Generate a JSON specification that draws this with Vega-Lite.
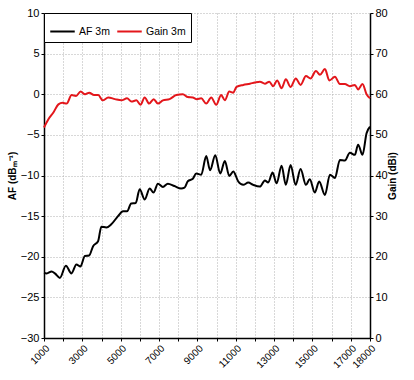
{
  "$schema": "https://vega.github.io/schema/vega-lite/v6.json",
  "width": 326,
  "height": 325,
  "autosize": "none",
  "padding": {"left": 44, "top": 13, "right": 44, "bottom": 42},
  "background": "white",
  "config": {
    "view": {"stroke": null},
    "font": "Liberation Sans",
    "axis": {
      "labelFont": "Liberation Sans",
      "labelFontSize": 11,
      "labelColor": "#000",
      "titleFont": "Liberation Sans",
      "titleFontSize": 10,
      "titleFontWeight": "bold",
      "titleColor": "#000",
      "domainColor": "#000",
      "domainWidth": 1.5,
      "tickColor": "#000",
      "tickSize": 3,
      "gridColor": "#b0b0b0",
      "gridDash": [1, 2],
      "gridWidth": 1
    },
    "legend": {
      "labelFont": "Liberation Sans",
      "labelFontSize": 10.5,
      "labelColor": "#000"
    }
  },
  "datasets": {
    "curves": [
      {"f": 1000, "v": -22.0, "s": "AF 3m"},
      {"f": 1140, "v": -22.05, "s": "AF 3m"},
      {"f": 1400, "v": -21.8, "s": "AF 3m"},
      {"f": 1570, "v": -22.05, "s": "AF 3m"},
      {"f": 1830, "v": -22.6, "s": "AF 3m"},
      {"f": 2140, "v": -21.1, "s": "AF 3m"},
      {"f": 2430, "v": -22.05, "s": "AF 3m"},
      {"f": 2690, "v": -20.95, "s": "AF 3m"},
      {"f": 2900, "v": -21.2, "s": "AF 3m"},
      {"f": 3130, "v": -19.9, "s": "AF 3m"},
      {"f": 3350, "v": -19.85, "s": "AF 3m"},
      {"f": 3560, "v": -18.7, "s": "AF 3m"},
      {"f": 3820, "v": -18.1, "s": "AF 3m"},
      {"f": 3990, "v": -16.3, "s": "AF 3m"},
      {"f": 4250, "v": -16.4, "s": "AF 3m"},
      {"f": 4510, "v": -16.0, "s": "AF 3m"},
      {"f": 4860, "v": -15.0, "s": "AF 3m"},
      {"f": 5120, "v": -14.4, "s": "AF 3m"},
      {"f": 5330, "v": -14.4, "s": "AF 3m"},
      {"f": 5550, "v": -13.45, "s": "AF 3m"},
      {"f": 5780, "v": -13.4, "s": "AF 3m"},
      {"f": 5990, "v": -11.7, "s": "AF 3m"},
      {"f": 6250, "v": -12.95, "s": "AF 3m"},
      {"f": 6510, "v": -11.6, "s": "AF 3m"},
      {"f": 6710, "v": -12.1, "s": "AF 3m"},
      {"f": 6940, "v": -11.0, "s": "AF 3m"},
      {"f": 7200, "v": -11.4, "s": "AF 3m"},
      {"f": 7460, "v": -11.0, "s": "AF 3m"},
      {"f": 7800, "v": -11.3, "s": "AF 3m"},
      {"f": 8150, "v": -11.6, "s": "AF 3m"},
      {"f": 8330, "v": -11.5, "s": "AF 3m"},
      {"f": 8500, "v": -10.7, "s": "AF 3m"},
      {"f": 8760, "v": -10.4, "s": "AF 3m"},
      {"f": 8940, "v": -9.75, "s": "AF 3m"},
      {"f": 9200, "v": -9.9, "s": "AF 3m"},
      {"f": 9460, "v": -7.6, "s": "AF 3m"},
      {"f": 9660, "v": -9.35, "s": "AF 3m"},
      {"f": 9930, "v": -7.5, "s": "AF 3m"},
      {"f": 10190, "v": -9.75, "s": "AF 3m"},
      {"f": 10430, "v": -8.2, "s": "AF 3m"},
      {"f": 10660, "v": -10.05, "s": "AF 3m"},
      {"f": 10870, "v": -9.5, "s": "AF 3m"},
      {"f": 11130, "v": -10.74, "s": "AF 3m"},
      {"f": 11390, "v": -11.15, "s": "AF 3m"},
      {"f": 11650, "v": -10.87, "s": "AF 3m"},
      {"f": 11910, "v": -11.15, "s": "AF 3m"},
      {"f": 12260, "v": -11.36, "s": "AF 3m"},
      {"f": 12520, "v": -10.6, "s": "AF 3m"},
      {"f": 12690, "v": -10.87, "s": "AF 3m"},
      {"f": 12920, "v": -9.64, "s": "AF 3m"},
      {"f": 13130, "v": -10.95, "s": "AF 3m"},
      {"f": 13390, "v": -8.8, "s": "AF 3m"},
      {"f": 13610, "v": -11.15, "s": "AF 3m"},
      {"f": 13860, "v": -8.7, "s": "AF 3m"},
      {"f": 14120, "v": -11.15, "s": "AF 3m"},
      {"f": 14380, "v": -9.2, "s": "AF 3m"},
      {"f": 14660, "v": -11.15, "s": "AF 3m"},
      {"f": 14860, "v": -10.45, "s": "AF 3m"},
      {"f": 15120, "v": -12.1, "s": "AF 3m"},
      {"f": 15350, "v": -10.74, "s": "AF 3m"},
      {"f": 15650, "v": -12.4, "s": "AF 3m"},
      {"f": 15910, "v": -9.9, "s": "AF 3m"},
      {"f": 16170, "v": -10.3, "s": "AF 3m"},
      {"f": 16430, "v": -8.1, "s": "AF 3m"},
      {"f": 16690, "v": -8.16, "s": "AF 3m"},
      {"f": 16950, "v": -7.2, "s": "AF 3m"},
      {"f": 17210, "v": -7.46, "s": "AF 3m"},
      {"f": 17380, "v": -6.2, "s": "AF 3m"},
      {"f": 17610, "v": -7.46, "s": "AF 3m"},
      {"f": 17820, "v": -4.8, "s": "AF 3m"},
      {"f": 18000, "v": -4.0, "s": "AF 3m"},
      {"f": 1000, "v": 51.8, "s": "Gain 3m"},
      {"f": 1230, "v": 53.85, "s": "Gain 3m"},
      {"f": 1490, "v": 55.5, "s": "Gain 3m"},
      {"f": 1750, "v": 57.5, "s": "Gain 3m"},
      {"f": 1970, "v": 57.9, "s": "Gain 3m"},
      {"f": 2180, "v": 57.7, "s": "Gain 3m"},
      {"f": 2440, "v": 59.8, "s": "Gain 3m"},
      {"f": 2670, "v": 59.6, "s": "Gain 3m"},
      {"f": 2910, "v": 60.65, "s": "Gain 3m"},
      {"f": 3140, "v": 60.0, "s": "Gain 3m"},
      {"f": 3360, "v": 60.4, "s": "Gain 3m"},
      {"f": 3610, "v": 59.8, "s": "Gain 3m"},
      {"f": 3830, "v": 59.8, "s": "Gain 3m"},
      {"f": 4060, "v": 58.5, "s": "Gain 3m"},
      {"f": 4350, "v": 59.2, "s": "Gain 3m"},
      {"f": 4700, "v": 58.8, "s": "Gain 3m"},
      {"f": 5040, "v": 58.5, "s": "Gain 3m"},
      {"f": 5330, "v": 59.0, "s": "Gain 3m"},
      {"f": 5560, "v": 58.2, "s": "Gain 3m"},
      {"f": 5820, "v": 58.5, "s": "Gain 3m"},
      {"f": 6030, "v": 57.4, "s": "Gain 3m"},
      {"f": 6250, "v": 59.2, "s": "Gain 3m"},
      {"f": 6480, "v": 57.7, "s": "Gain 3m"},
      {"f": 6720, "v": 58.8, "s": "Gain 3m"},
      {"f": 6940, "v": 57.7, "s": "Gain 3m"},
      {"f": 7200, "v": 58.5, "s": "Gain 3m"},
      {"f": 7550, "v": 58.8, "s": "Gain 3m"},
      {"f": 7900, "v": 59.8, "s": "Gain 3m"},
      {"f": 8240, "v": 60.0, "s": "Gain 3m"},
      {"f": 8500, "v": 59.3, "s": "Gain 3m"},
      {"f": 8760, "v": 59.2, "s": "Gain 3m"},
      {"f": 8970, "v": 58.8, "s": "Gain 3m"},
      {"f": 9200, "v": 59.0, "s": "Gain 3m"},
      {"f": 9460, "v": 57.7, "s": "Gain 3m"},
      {"f": 9720, "v": 59.2, "s": "Gain 3m"},
      {"f": 9980, "v": 57.4, "s": "Gain 3m"},
      {"f": 10240, "v": 59.8, "s": "Gain 3m"},
      {"f": 10430, "v": 58.5, "s": "Gain 3m"},
      {"f": 10660, "v": 60.65, "s": "Gain 3m"},
      {"f": 10870, "v": 60.4, "s": "Gain 3m"},
      {"f": 11040, "v": 61.8, "s": "Gain 3m"},
      {"f": 11390, "v": 62.3, "s": "Gain 3m"},
      {"f": 11740, "v": 62.6, "s": "Gain 3m"},
      {"f": 12000, "v": 62.9, "s": "Gain 3m"},
      {"f": 12260, "v": 63.1, "s": "Gain 3m"},
      {"f": 12520, "v": 62.6, "s": "Gain 3m"},
      {"f": 12750, "v": 63.1, "s": "Gain 3m"},
      {"f": 12950, "v": 62.0, "s": "Gain 3m"},
      {"f": 13160, "v": 63.4, "s": "Gain 3m"},
      {"f": 13390, "v": 61.5, "s": "Gain 3m"},
      {"f": 13610, "v": 63.7, "s": "Gain 3m"},
      {"f": 13860, "v": 61.8, "s": "Gain 3m"},
      {"f": 14130, "v": 63.9, "s": "Gain 3m"},
      {"f": 14380, "v": 62.3, "s": "Gain 3m"},
      {"f": 14660, "v": 64.5, "s": "Gain 3m"},
      {"f": 14900, "v": 63.9, "s": "Gain 3m"},
      {"f": 15180, "v": 65.7, "s": "Gain 3m"},
      {"f": 15390, "v": 64.8, "s": "Gain 3m"},
      {"f": 15650, "v": 66.2, "s": "Gain 3m"},
      {"f": 15880, "v": 63.4, "s": "Gain 3m"},
      {"f": 16170, "v": 64.3, "s": "Gain 3m"},
      {"f": 16430, "v": 62.5, "s": "Gain 3m"},
      {"f": 16690, "v": 62.5, "s": "Gain 3m"},
      {"f": 16950, "v": 62.0, "s": "Gain 3m"},
      {"f": 17210, "v": 62.3, "s": "Gain 3m"},
      {"f": 17380, "v": 61.2, "s": "Gain 3m"},
      {"f": 17610, "v": 62.5, "s": "Gain 3m"},
      {"f": 17820, "v": 60.0, "s": "Gain 3m"},
      {"f": 18000, "v": 59.0, "s": "Gain 3m"}
    ]
  },
  "data": {"name": "curves"},
  "encoding": {
    "x": {
      "field": "f",
      "type": "quantitative",
      "scale": {"domain": [1000, 18000], "nice": false, "zero": false},
      "axis": {
        "title": null,
        "values": [1000, 2000, 3000, 4000, 5000, 6000, 7000, 8000, 9000, 10000, 11000, 12000, 13000, 14000, 15000, 16000, 17000, 18000],
        "labelExpr": "(datum.value % 2000 == 1000 || datum.value == 18000) ? format(datum.value, 'd') : ''",
        "labelAngle": -45,
        "labelAlign": "right",
        "labelBaseline": "top",
        "labelPadding": 2,
        "labelFontSize": 10,
        "labelOverlap": false,
        "labelBound": false,
        "grid": true
      }
    },
    "color": {
      "field": "s",
      "type": "nominal",
      "scale": {"domain": ["AF 3m", "Gain 3m"], "range": ["#000000", "#e3161b"]},
      "legend": {
        "title": null,
        "orient": "none",
        "legendX": 0,
        "legendY": 0,
        "direction": "horizontal",
        "symbolType": "stroke",
        "symbolSize": 600,
        "symbolStrokeWidth": 2,
        "strokeColor": "#000",
        "fillColor": "#ffffff",
        "padding": 5,
        "columnPadding": 3,
        "labelOffset": 3
      }
    }
  },
  "layer": [
    {
      "transform": [{"filter": "datum.s == 'AF 3m'"}],
      "mark": {"type": "line", "strokeWidth": 2, "interpolate": "monotone"},
      "encoding": {
        "y": {
          "field": "v",
          "type": "quantitative",
          "scale": {"domain": [-30, 10], "nice": false},
          "axis": {
            "title": "AF (dBₘ⁻¹)",
            "orient": "left",
            "values": [-30, -25, -20, -15, -10, -5, 0, 5, 10],
            "grid": true,
            "titlePadding": 3
          }
        }
      }
    },
    {
      "transform": [{"filter": "datum.s == 'Gain 3m'"}],
      "mark": {"type": "line", "strokeWidth": 2, "interpolate": "monotone"},
      "encoding": {
        "y": {
          "field": "v",
          "type": "quantitative",
          "scale": {"domain": [0, 80], "nice": false},
          "axis": {
            "title": "Gain (dBi)",
            "orient": "right",
            "values": [0, 10, 20, 30, 40, 50, 60, 70, 80],
            "grid": false,
            "titleAngle": -90,
            "titlePadding": 10
          }
        }
      }
    }
  ],
  "resolve": {"scale": {"y": "independent"}}
}
